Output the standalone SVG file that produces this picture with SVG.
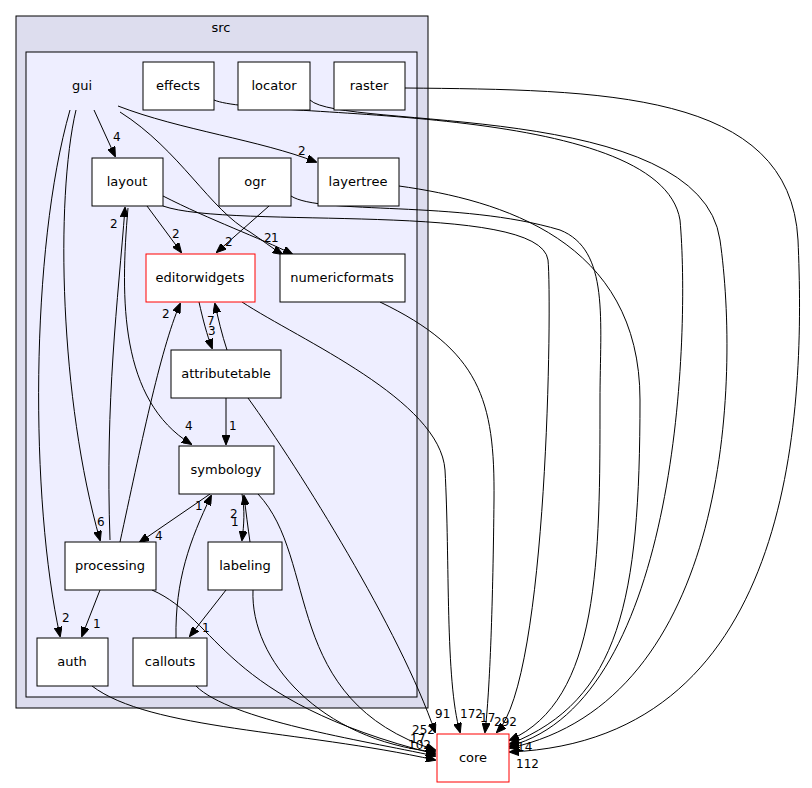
<svg xmlns="http://www.w3.org/2000/svg" width="812" height="788" viewBox="0 0 812 788">
<style>
text{font-family:"DejaVu Sans",sans-serif;font-size:13px;fill:#000}
.l{font-size:12px}
.n{fill:#fff;stroke:#000;stroke-width:1}
.r{fill:#fff;stroke:#f00;stroke-width:1}
#edges path{fill:none;stroke:#000;stroke-width:1;marker-end:url(#a)}
</style>
<defs><marker id="a" markerWidth="10" markerHeight="8" refX="9" refY="4" orient="auto" markerUnits="userSpaceOnUse"><path d="M0,0L10,4L0,8z" fill="#000" stroke="#000"/></marker></defs>
<rect width="812" height="788" fill="#fff"/>
<g id="src"><rect x="16" y="16" width="412" height="692" fill="#ddddee" stroke="#000"/><text x="221" y="32" text-anchor="middle">src</text></g>
<g id="gui"><rect x="26" y="52" width="391" height="645" fill="#eeeeff" stroke="#000"/><text x="82" y="90" text-anchor="middle">gui</text></g>
<g id="edges">
<path d="M94,110 L115,156"/>
<path d="M118,106 C180,130 260,140 316,162"/>
<path d="M120,112 C180,150 210,210 250,232 C262,240 272,248 282,254"/>
<path d="M76,110 C55,200 60,400 100,540"/>
<path d="M70,110 C30,250 30,500 60,636"/>
<path d="M147,206 L181,252"/>
<path d="M163,196 C210,220 260,238 292,254"/>
<path d="M163,206 C230,230 540,200 548,260 C552,300 548,680 497,732"/>
<path d="M269,206 L217,252"/>
<path d="M291,196 C320,215 460,200 560,230 C610,250 600,320 600,400 C600,560 600,700 510,740"/>
<path d="M214,100 C260,120 660,100 680,220 C690,330 680,700 510,746"/>
<path d="M310,100 C340,130 700,100 720,240 C740,380 730,700 510,748"/>
<path d="M405,88 C600,90 790,90 798,240 C805,400 800,740 510,752"/>
<path d="M399,186 C500,200 640,240 640,400 C640,600 620,700 510,744"/>
<path d="M242,302 C300,340 440,400 445,470 C450,560 445,680 460,732"/>
<path d="M380,302 C480,350 495,400 494,500 C493,600 490,690 485,732"/>
<path d="M199,302 C203,320 207,335 212,348"/>
<path d="M227,350 C222,335 218,318 215,304"/>
<path d="M226,398 L226,444"/>
<path d="M248,398 C300,470 400,630 435,732"/>
<path d="M128,208 C120,300 120,400 191,444"/>
<path d="M110,540 C105,400 118,300 125,208"/>
<path d="M120,542 C140,450 160,350 180,304"/>
<path d="M210,494 L140,542"/>
<path d="M242,494 C245,510 244,525 242,540"/>
<path d="M250,542 C248,528 246,512 244,496"/>
<path d="M258,494 C320,560 280,700 435,750"/>
<path d="M100,590 L82,636"/>
<path d="M152,590 C220,620 220,700 435,754"/>
<path d="M226,590 L190,636"/>
<path d="M253,590 C250,660 320,740 435,752"/>
<path d="M176,638 C175,580 190,540 211,496"/>
<path d="M196,686 C230,720 360,740 435,756"/>
<path d="M92,686 C150,730 300,730 435,760"/>
</g>
<g>
<text class="l" x="113" y="141">4</text>
<text class="l" x="298" y="155">2</text>
<text class="l" x="97" y="526">6</text>
<text class="l" x="62" y="622">2</text>
<text class="l" x="172" y="238">2</text>
<text class="l" x="264" y="242">2</text>
<text class="l" x="271" y="242">1</text>
<text class="l" x="225" y="246">2</text>
<text class="l" x="207" y="325">7</text>
<text class="l" x="208" y="335">3</text>
<text class="l" x="229" y="430">1</text>
<text class="l" x="185" y="430">4</text>
<text class="l" x="110" y="228">2</text>
<text class="l" x="162" y="318">2</text>
<text class="l" x="195" y="510">1</text>
<text class="l" x="155" y="540">4</text>
<text class="l" x="230" y="518">2</text>
<text class="l" x="231" y="526">1</text>
<text class="l" x="93" y="628">1</text>
<text class="l" x="202" y="632">1</text>
<text class="l" x="435" y="718">91</text>
<text class="l" x="460" y="718">172</text>
<text class="l" x="480" y="722">17</text>
<text class="l" x="494" y="726">292</text>
<text class="l" x="412" y="734">252</text>
<text class="l" x="410" y="743">17</text>
<text class="l" x="408" y="749">102</text>
<text class="l" x="517" y="751">14</text>
<text class="l" x="516" y="768">112</text>
</g>
<g id="effects"><rect class="n" x="143" y="62" width="71" height="48"/><text x="178" y="90" text-anchor="middle">effects</text></g>
<g id="locator"><rect class="n" x="238" y="62" width="72" height="48"/><text x="274" y="90" text-anchor="middle">locator</text></g>
<g id="raster"><rect class="n" x="334" y="62" width="71" height="48"/><text x="369" y="90" text-anchor="middle">raster</text></g>
<g id="layout"><rect class="n" x="92" y="158" width="71" height="48"/><text x="127" y="186" text-anchor="middle">layout</text></g>
<g id="ogr"><rect class="n" x="219" y="158" width="72" height="48"/><text x="255" y="186" text-anchor="middle">ogr</text></g>
<g id="layertree"><rect class="n" x="318" y="158" width="81" height="48"/><text x="358" y="186" text-anchor="middle">layertree</text></g>
<g id="editorwidgets"><rect class="r" x="146" y="254" width="109" height="48"/><text x="200" y="282" text-anchor="middle">editorwidgets</text></g>
<g id="numericformats"><rect class="n" x="280" y="254" width="125" height="48"/><text x="342" y="282" text-anchor="middle">numericformats</text></g>
<g id="attributetable"><rect class="n" x="171" y="350" width="110" height="48"/><text x="226" y="378" text-anchor="middle">attributetable</text></g>
<g id="symbology"><rect class="n" x="179" y="446" width="95" height="48"/><text x="226" y="474" text-anchor="middle">symbology</text></g>
<g id="processing"><rect class="n" x="65" y="542" width="91" height="48"/><text x="110" y="570" text-anchor="middle">processing</text></g>
<g id="labeling"><rect class="n" x="208" y="542" width="74" height="48"/><text x="245" y="570" text-anchor="middle">labeling</text></g>
<g id="auth"><rect class="n" x="37" y="638" width="71" height="48"/><text x="72" y="666" text-anchor="middle">auth</text></g>
<g id="callouts"><rect class="n" x="133" y="638" width="74" height="48"/><text x="170" y="666" text-anchor="middle">callouts</text></g>
<g id="core"><rect class="r" x="437" y="734" width="72" height="48"/><text x="473" y="762" text-anchor="middle">core</text></g>
</svg>
